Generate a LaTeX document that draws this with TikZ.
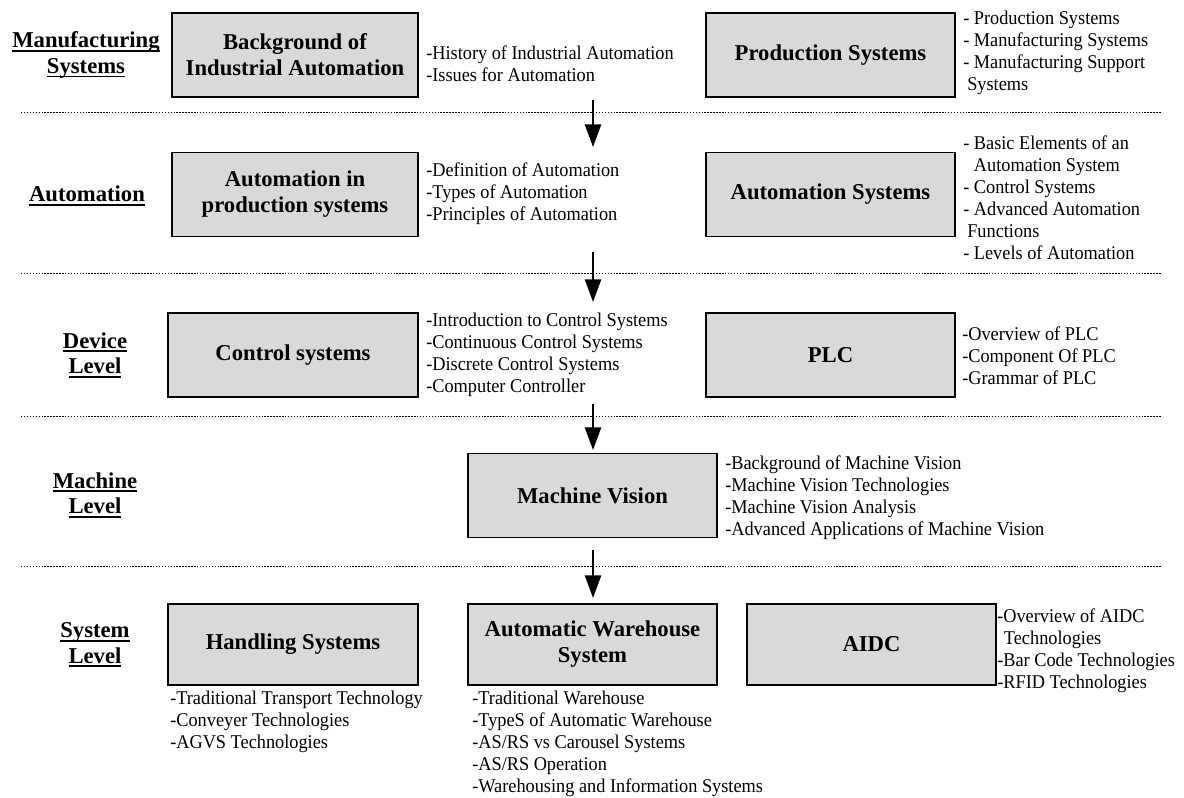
\documentclass[tikz,border=0pt]{standalone}
\usepackage{fontspec}
\setmainfont{Liberation Serif}
\newfontfamily\itemfont{Liberation Serif}[FakeStretch=0.94]
\usetikzlibrary{arrows.meta}
\definecolor{boxgray}{RGB}{217,217,217}
\newcommand\myul[1]{\setbox0\hbox{#1}\rlap{\rule[-3.2pt]{\wd0}{1.4pt}}\box0}
\tikzset{
  box/.style={draw=black, line width=1.3pt, fill=boxgray, align=center,
    font=\fontsize{17}{19.5}\selectfont\bfseries, inner sep=0pt},
  wideA/.style={minimum width=184.5pt},
  wideB/.style={minimum width=187pt},
  tallA/.style={minimum height=63pt},
  tallB/.style={minimum height=61pt},
  lvl/.style={align=center, font=\fontsize{17}{19}\selectfont\bfseries, inner sep=0pt},
  items/.style={align=left, anchor=west, font=\itemfont\fontsize{14.6}{16.5}\selectfont, inner sep=0pt},
  dotline/.style={line width=0.75pt, dash pattern=on 1.1pt off 1.1pt},
  arr/.style={line width=2pt, -{Triangle[width=12pt,length=17pt]}}
}
\begin{document}
\begin{tikzpicture}[x=0.75pt,y=-0.75pt]
\useasboundingbox (0,0) rectangle (1184,797);
% level labels
\node[lvl] (lms) at (86,55) {\myul{Manufacturing}\\\myul{Systems}};
\node[lvl] (lau) at (87,196) {\myul{Automation}};
\node[lvl] (ldv) at (95,355) {\myul{Device}\\\myul{Level}};
\node[lvl] (lmc) at (95,495) {\myul{Machine}\\\myul{Level}};
\node[lvl] (lsy) at (95,645) {\myul{System}\\\myul{Level}};
% boxes
\node[box,wideA,tallA] (bg) at (295,55) {Background of\\Industrial Automation};
\node[box,wideB,tallA] (ps) at (830.5,55) {Production Systems};
\node[box,wideA,tallA] (aip) at (295,194.5) {Automation in\\production systems};
\node[box,wideB,tallA] (as) at (830.5,194.5) {Automation Systems};
\node[box,wideB,tallA] (cs) at (293,355) {Control systems};
\node[box,wideB,tallA] (plc) at (830.5,355) {PLC};
\node[box,wideB,tallA] (mv) at (592.5,495.5) {Machine Vision};
\node[box,wideB,tallB] (hs) at (293,644.5) {Handling Systems};
\node[box,wideB,tallB] (aw) at (592.5,644.5) {Automatic Warehouse\\System};
\node[box,wideB,tallB] (aidc) at (871.5,644.5) {AIDC};
% item lists
\node[items] (t1) at (426,64) {-History of Industrial Automation\\-Issues for Automation};
\node[items] (t2) at (963,53) {- Production Systems\\- Manufacturing Systems\\- Manufacturing Support\\\hspace*{3pt}Systems};
\node[items] (t3) at (426,194) {-Definition of Automation\\-Types of Automation\\-Principles of Automation};
\node[items] (t4) at (963,197.5) {- Basic Elements of an\\\hspace*{8pt}Automation System\\- Control Systems\\- Advanced Automation\\\hspace*{3pt}Functions\\- Levels of Automation};
\node[items] (t5) at (426,355) {-Introduction to Control Systems\\-Continuous Control Systems\\-Discrete Control Systems\\-Computer Controller};
\node[items] (t6) at (962,356) {-Overview of PLC\\-Component Of PLC\\-Grammar of PLC};
\node[items] (t7) at (725,497.5) {-Background of Machine Vision\\-Machine Vision Technologies\\-Machine Vision Analysis\\-Advanced Applications of Machine Vision};
\node[items] (t8) at (170,722) {-Traditional Transport Technology\\-Conveyer Technologies\\-AGVS Technologies};
\node[items] (t9) at (472,743.5) {-Traditional Warehouse\\-TypeS of Automatic Warehouse\\-AS/RS vs Carousel Systems\\-AS/RS Operation\\-Warehousing and Information Systems};
\node[items] (t10) at (997,651) {-Overview of AIDC\\\hspace*{5pt}Technologies\\-Bar Code Technologies\\-RFID Technologies};
% dotted separators
\coordinate (d1l) at (21,112); \coordinate (d1r) at (1161,112);
\coordinate (d2l) at (21,273); \coordinate (d2r) at (1161,273);
\coordinate (d3l) at (21,416); \coordinate (d3r) at (1161,416);
\coordinate (d4l) at (21,566); \coordinate (d4r) at (1161,566);
\draw[dotline] (d1l) -- (d1r);
\draw[dotline] (d2l) -- (d2r);
\draw[dotline] (d3l) -- (d3r);
\draw[dotline] (d4l) -- (d4r);
% arrows
\coordinate (a1s) at (593,100); \coordinate (a1e) at (593,147);
\coordinate (a2s) at (593,252); \coordinate (a2e) at (593,302);
\coordinate (a3s) at (593,404); \coordinate (a3e) at (593,450);
\coordinate (a4s) at (593,550); \coordinate (a4e) at (593,598);
\draw[arr] (a1s) -- (a1e);
\draw[arr] (a2s) -- (a2e);
\draw[arr] (a3s) -- (a3e);
\draw[arr] (a4s) -- (a4e);
\end{tikzpicture}
\end{document}
